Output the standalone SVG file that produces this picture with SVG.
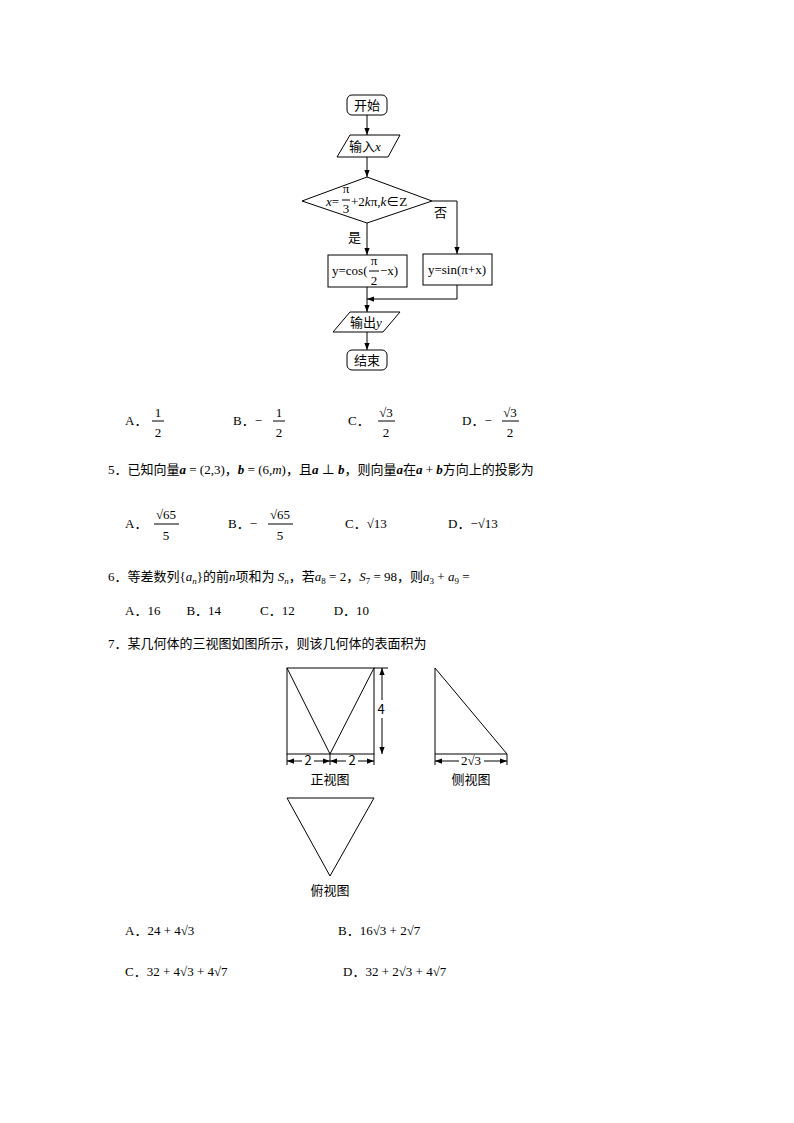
<svg xmlns="http://www.w3.org/2000/svg" width="794" height="1123" viewBox="0 0 794 1123">
<defs>
<marker id="ar" viewBox="0 0 8 8" refX="8" refY="4" markerWidth="7" markerHeight="7" orient="auto-start-reverse"><path d="M0,1 L8,4 L0,7z" fill="#000"/></marker>
<style>
.s{fill:none;stroke:#000;stroke-width:1}
.t{font-family:"Liberation Serif","Noto Sans CJK SC",serif;font-size:13px;fill:#000}
.c{font-family:"Noto Sans CJK SC",sans-serif;font-size:13px;fill:#000}
.m{text-anchor:middle}
.i{font-style:italic}
.b{font-weight:bold;font-style:italic}
</style>
</defs>
<rect width="794" height="1123" fill="#fff"/>
<g id="start"><rect class="s" x="347" y="95" width="40" height="20" rx="5"/><text class="c m" x="367" y="110">开始</text></g>
<g id="input"><path class="s" d="M350,135 L400,135 L388,157 L337,157z"/><text class="c m" x="365" y="151">输入<tspan class="t i">x</tspan></text></g>
<g id="cond"><path class="s" d="M367,177 L432,201 L367,223 L302,201z"/>
<text class="t" x="326" y="206"><tspan class="i">x</tspan>=</text><text class="t m" x="346" y="193" font-size="11">π</text><line class="s" x1="342" y1="200" x2="350" y2="200"/><text class="t m" x="346" y="213" font-size="12">3</text>
<text class="t" x="351" y="206">+2<tspan class="i">k</tspan>π,<tspan class="i">k</tspan>∈Z</text></g>
<g id="yes"><rect class="s" x="328" y="255" width="79" height="32"/><text class="t" x="332" y="275">y=cos(</text><text class="t m" x="374" y="265" font-size="11">π</text><line class="s" x1="369" y1="271" x2="379" y2="271"/><text class="t m" x="374" y="285" font-size="12">2</text><text class="t" x="380" y="275">−x)</text></g>
<g id="no"><rect class="s" x="423" y="254" width="69" height="31"/><text class="t m" x="457" y="274">y=sin(π+x)</text></g>
<g id="output"><path class="s" d="M350,312 L400,312 L383,332 L333,332z"/><text class="c m" x="366" y="327">输出<tspan class="t i">y</tspan></text></g>
<g id="end"><rect class="s" x="347" y="350" width="40" height="20" rx="5"/><text class="c m" x="367" y="365">结束</text></g>
<g id="connectors" class="s">
<line x1="367" y1="115" x2="367" y2="135" marker-end="url(#ar)"/>
<line x1="367" y1="157" x2="367" y2="177" marker-end="url(#ar)"/>
<line x1="367" y1="223" x2="367" y2="255" marker-end="url(#ar)"/>
<path d="M432,201 L457,201 L457,254" marker-end="url(#ar)"/>
<path d="M457,285 L457,299 L367,299" marker-end="url(#ar)"/>
<line x1="367" y1="287" x2="367" y2="312" marker-end="url(#ar)"/>
<line x1="367" y1="332" x2="367" y2="350" marker-end="url(#ar)"/>
</g>
<text class="c" x="434" y="217">否</text>
<text class="c" x="348" y="242">是</text>

<g class="t">
<text x="125" y="425">A．</text><text class="m" x="158" y="417">1</text><line class="s" x1="152" y1="421" x2="164" y2="421"/><text class="m" x="158" y="437">2</text>
<text x="233" y="425">B．−</text><text class="m" x="279" y="417">1</text><line class="s" x1="273" y1="421" x2="285" y2="421"/><text class="m" x="279" y="437">2</text>
<text x="348" y="425">C．</text><text class="m" x="386" y="417">√3</text><line class="s" x1="378" y1="421" x2="395" y2="421"/><text class="m" x="386" y="437">2</text>
<text x="462" y="425">D．−</text><text class="m" x="510" y="417">√3</text><line class="s" x1="502" y1="421" x2="519" y2="421"/><text class="m" x="510" y="437">2</text>
</g>
<text class="t" x="108" y="474">5．<tspan class="c">已知向量</tspan><tspan class="b">a</tspan> = (2,3)<tspan class="c">，</tspan><tspan class="b">b</tspan> = (6,<tspan class="i">m</tspan>)<tspan class="c">，且</tspan><tspan class="b">a</tspan> ⊥ <tspan class="b">b</tspan><tspan class="c">，则向量</tspan><tspan class="b">a</tspan><tspan class="c">在</tspan><tspan class="b">a</tspan> + <tspan class="b">b</tspan><tspan class="c">方向上的投影为</tspan></text>
<g class="t">
<text x="125" y="528">A．</text><text class="m" x="166" y="519">√65</text><line class="s" x1="154" y1="524" x2="179" y2="524"/><text class="m" x="166" y="540">5</text>
<text x="228" y="528">B．−</text><text class="m" x="280" y="519">√65</text><line class="s" x1="268" y1="524" x2="293" y2="524"/><text class="m" x="280" y="540">5</text>
<text x="345" y="528">C．√13</text>
<text x="448" y="528">D．−√13</text>
</g>
<text class="t" x="108" y="581">6．<tspan class="c">等差数列</tspan>{<tspan class="i">a</tspan><tspan class="i" font-size="9" dy="3">n</tspan><tspan dy="-3">}</tspan><tspan class="c">的前</tspan><tspan class="i">n</tspan><tspan class="c">项和为</tspan> <tspan class="i">S</tspan><tspan class="i" font-size="9" dy="3">n</tspan><tspan class="c" dy="-3">，若</tspan><tspan class="i">a</tspan><tspan font-size="9" dy="3">8</tspan><tspan dy="-3"> = 2</tspan><tspan class="c">，</tspan><tspan class="i">S</tspan><tspan font-size="9" dy="3">7</tspan><tspan dy="-3"> = 98</tspan><tspan class="c">，则</tspan><tspan class="i">a</tspan><tspan font-size="9" dy="3">3</tspan><tspan dy="-3"> + </tspan><tspan class="i">a</tspan><tspan font-size="9" dy="3">9</tspan><tspan dy="-3"> =</tspan></text>
<text class="t" x="125" y="615">A．16　　B．14　　　C．12　　　D．10</text>
<text class="t" x="108" y="648">7．<tspan class="c">某几何体的三视图如图所示，则该几何体的表面积为</tspan></text>

<g id="front" class="s">
<rect x="287" y="668" width="87" height="86"/><path d="M287,668 L330,754 L374,668"/>
<line x1="374" y1="668" x2="388" y2="668"/>
<line x1="382" y1="700" x2="382" y2="668" marker-end="url(#ar)"/><line x1="382" y1="718" x2="382" y2="754" marker-end="url(#ar)"/>
<line x1="287" y1="754" x2="287" y2="765"/><line x1="330" y1="754" x2="330" y2="765"/><line x1="374" y1="754" x2="374" y2="765"/>
<line x1="302" y1="761" x2="287" y2="761" marker-end="url(#ar)"/><line x1="314" y1="761" x2="330" y2="761" marker-end="url(#ar)"/>
<line x1="346" y1="761" x2="330" y2="761" marker-end="url(#ar)"/><line x1="358" y1="761" x2="374" y2="761" marker-end="url(#ar)"/>
</g>
<text class="c m" x="381" y="714">4</text><text class="c m" x="308" y="765" font-size="12">2</text><text class="c m" x="352" y="765" font-size="12">2</text>
<text class="c m" x="330" y="784" font-size="14">正视图</text>
<g id="side" class="s">
<path d="M435,668 L435,754 L507,754z"/>
<line x1="435" y1="754" x2="435" y2="765"/><line x1="507" y1="754" x2="507" y2="765"/>
<line x1="459" y1="761" x2="435" y2="761" marker-end="url(#ar)"/><line x1="484" y1="761" x2="507" y2="761" marker-end="url(#ar)"/>
</g>
<text class="t m" x="471" y="765" font-size="12">2√3</text>
<text class="c m" x="471" y="784" font-size="14">侧视图</text>
<g id="top"><path class="s" d="M287,798 L374,798 L330,876z"/></g>
<text class="c m" x="330" y="895" font-size="14">俯视图</text>

<text class="t" x="125" y="935">A．24 + 4√3</text>
<text class="t" x="338" y="935">B．16√3 + 2√7</text>
<text class="t" x="125" y="976">C．32 + 4√3 + 4√7</text>
<text class="t" x="343" y="976">D．32 + 2√3 + 4√7</text>
</svg>
